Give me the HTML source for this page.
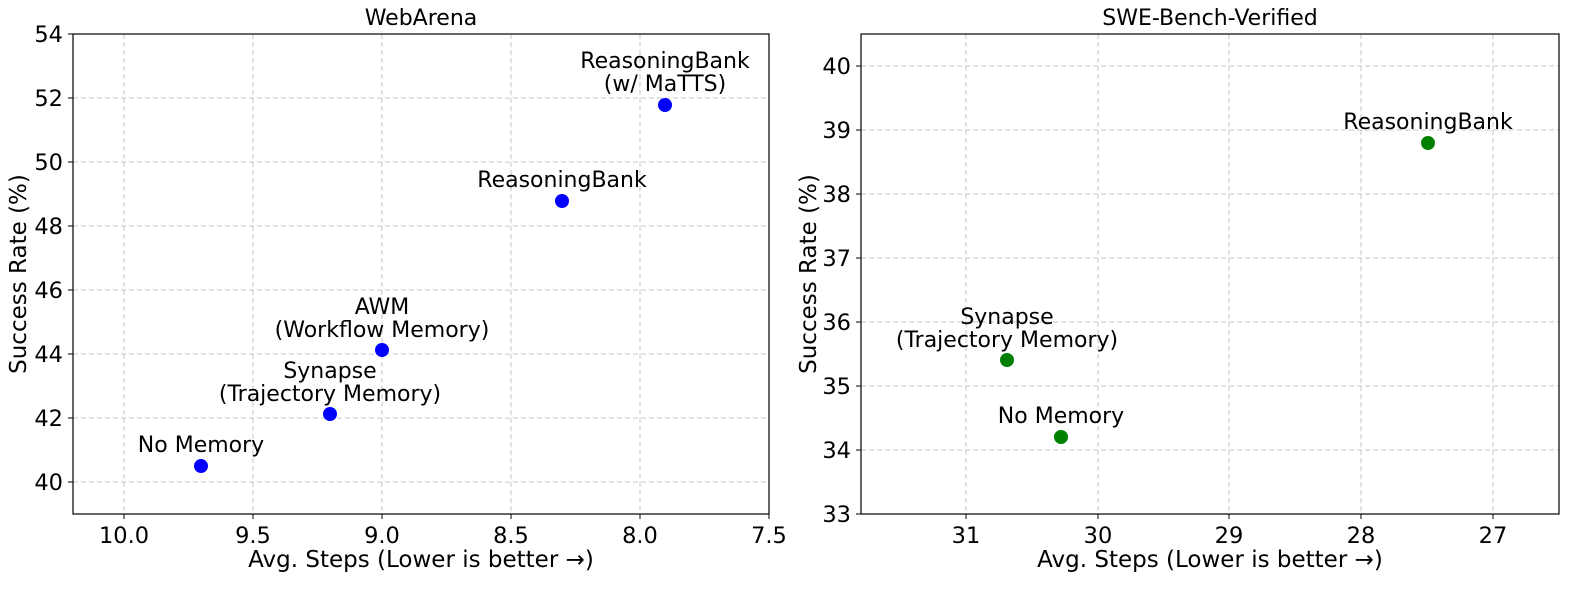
<!DOCTYPE html><html><head><style>body{margin:0;background:#fff}svg{display:block;font-family:"DejaVu Sans","Liberation Sans",sans-serif}</style></head><body>
<svg width="1589" height="590" xmlns="http://www.w3.org/2000/svg">
<g stroke="#c4c4c4" stroke-dasharray="5,3" stroke-width="1">
<line x1="124" y1="34" x2="124" y2="514"/><line x1="253" y1="34" x2="253" y2="514"/><line x1="382" y1="34" x2="382" y2="514"/><line x1="511" y1="34" x2="511" y2="514"/><line x1="640" y1="34" x2="640" y2="514"/>
<line x1="73" y1="98" x2="769" y2="98"/><line x1="73" y1="162" x2="769" y2="162"/><line x1="73" y1="226" x2="769" y2="226"/><line x1="73" y1="290" x2="769" y2="290"/><line x1="73" y1="354" x2="769" y2="354"/><line x1="73" y1="418" x2="769" y2="418"/><line x1="73" y1="482" x2="769" y2="482"/>
<line x1="966" y1="34" x2="966" y2="514"/><line x1="1098" y1="34" x2="1098" y2="514"/><line x1="1229" y1="34" x2="1229" y2="514"/><line x1="1361" y1="34" x2="1361" y2="514"/><line x1="1493" y1="34" x2="1493" y2="514"/>
<line x1="861" y1="66" x2="1559" y2="66"/><line x1="861" y1="130" x2="1559" y2="130"/><line x1="861" y1="194" x2="1559" y2="194"/><line x1="861" y1="258" x2="1559" y2="258"/><line x1="861" y1="322" x2="1559" y2="322"/><line x1="861" y1="386" x2="1559" y2="386"/><line x1="861" y1="450" x2="1559" y2="450"/>
</g>
<rect x="73" y="34" width="696" height="480" fill="none" stroke="#000" stroke-width="1.2"/>
<rect x="861" y="34" width="698" height="480" fill="none" stroke="#000" stroke-width="1.2"/>
<g stroke="#000"><line x1="124" y1="514" x2="124" y2="519"/><line x1="253" y1="514" x2="253" y2="519"/><line x1="382" y1="514" x2="382" y2="519"/><line x1="511" y1="514" x2="511" y2="519"/><line x1="640" y1="514" x2="640" y2="519"/><line x1="769" y1="514" x2="769" y2="519"/>
<line x1="68" y1="34" x2="73" y2="34"/><line x1="68" y1="98" x2="73" y2="98"/><line x1="68" y1="162" x2="73" y2="162"/><line x1="68" y1="226" x2="73" y2="226"/><line x1="68" y1="290" x2="73" y2="290"/><line x1="68" y1="354" x2="73" y2="354"/><line x1="68" y1="418" x2="73" y2="418"/><line x1="68" y1="482" x2="73" y2="482"/>
<line x1="966" y1="514" x2="966" y2="519"/><line x1="1098" y1="514" x2="1098" y2="519"/><line x1="1229" y1="514" x2="1229" y2="519"/><line x1="1361" y1="514" x2="1361" y2="519"/><line x1="1493" y1="514" x2="1493" y2="519"/>
<line x1="856" y1="66" x2="861" y2="66"/><line x1="856" y1="130" x2="861" y2="130"/><line x1="856" y1="194" x2="861" y2="194"/><line x1="856" y1="258" x2="861" y2="258"/><line x1="856" y1="322" x2="861" y2="322"/><line x1="856" y1="386" x2="861" y2="386"/><line x1="856" y1="450" x2="861" y2="450"/><line x1="856" y1="514" x2="861" y2="514"/></g>
<g font-size="22.5" text-anchor="middle">
<text x="124" y="543">10.0</text><text x="253" y="543">9.5</text><text x="382" y="543">9.0</text><text x="511" y="543">8.5</text><text x="640" y="543">8.0</text><text x="769" y="543">7.5</text>
<text x="966" y="543">31</text><text x="1098" y="543">30</text><text x="1229" y="543">29</text><text x="1361" y="543">28</text><text x="1493" y="543">27</text>
</g>
<g font-size="22.5" text-anchor="end">
<text x="63" y="42">54</text><text x="63" y="106">52</text><text x="63" y="170">50</text><text x="63" y="234">48</text><text x="63" y="298">46</text><text x="63" y="362">44</text><text x="63" y="426">42</text><text x="63" y="490">40</text>
<text x="851" y="74">40</text><text x="851" y="138">39</text><text x="851" y="202">38</text><text x="851" y="266">37</text><text x="851" y="330">36</text><text x="851" y="394">35</text><text x="851" y="458">34</text><text x="851" y="522">33</text>
</g>
<g font-size="23" text-anchor="middle">
<text x="421" y="567">Avg. Steps (Lower is better →)</text><text x="1210" y="567">Avg. Steps (Lower is better →)</text>
<text x="421" y="25" font-size="22">WebArena</text><text x="1210" y="25" font-size="22">SWE-Bench-Verified</text>
<text transform="translate(26,274) rotate(-90)">Success Rate (%)</text>
<text transform="translate(816,274) rotate(-90)">Success Rate (%)</text>
</g>
<g fill="#0000ff"><circle cx="201" cy="466" r="7"/><circle cx="330" cy="414" r="7"/><circle cx="382" cy="350" r="7"/><circle cx="562" cy="201" r="7"/><circle cx="665" cy="105" r="7"/></g>
<g fill="#008000"><circle cx="1007" cy="360" r="7"/><circle cx="1061" cy="437" r="7"/><circle cx="1428" cy="143" r="7"/></g>
<g font-size="22" text-anchor="middle">
<text x="201" y="452">No Memory</text>
<text x="330" y="378">Synapse</text><text x="330" y="401">(Trajectory Memory)</text>
<text x="382" y="314">AWM</text><text x="382" y="337">(Workflow Memory)</text>
<text x="562" y="187">ReasoningBank</text>
<text x="665" y="68">ReasoningBank</text><text x="665" y="91">(w/ MaTTS)</text>
<text x="1007" y="324">Synapse</text><text x="1007" y="347">(Trajectory Memory)</text>
<text x="1061" y="423">No Memory</text>
<text x="1428" y="129">ReasoningBank</text>
</g>
</svg></body></html>
